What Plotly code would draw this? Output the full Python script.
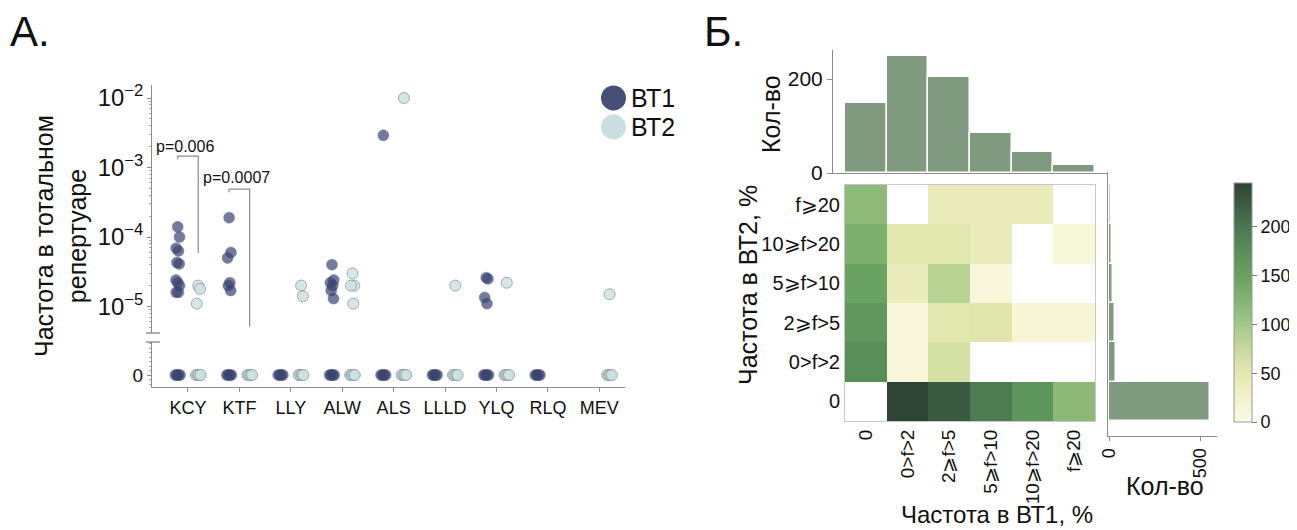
import math
import plotly.graph_objects as go

W, H = 1297, 530
OX, OY = 8, 8          # page body margin of the browser
FW, FH = W - OX, H - OY
FONT = "Liberation Sans, Arial, sans-serif"

# ---------------- Panel A data ----------------
CATEGORIES = ["KCY", "KTF", "LLY", "ALW", "ALS", "LLLD", "YLQ", "RLQ", "MEV"]
BT1_KCY = [1.4e-4, 1.0e-4, 6.9e-5, 6.3e-5, 4.3e-5, 4.1e-5, 2.4e-5, 2.2e-5, 2.0e-5, 1.6e-5, 1.6e-5]
BT1_KTF = [1.9e-4, 6.0e-5, 5.0e-5, 2.2e-5, 2.0e-5, 1.7e-5]
BT1_ALW = [4.0e-5, 2.4e-5, 2.2e-5, 2.0e-5, 1.7e-5, 1.3e-5]
BT1_ALS = [2.9e-3]
BT1_YLQ = [2.6e-5, 2.5e-5, 1.35e-5, 1.1e-5]
BT2_KCY = [2.0e-5, 1.8e-5, 1.1e-5]
BT2_LLY = [2.0e-5, 1.4e-5]
BT2_ALW = [3.0e-5, 2.0e-5, 2.0e-5, 1.1e-5]
BT2_ALS = [1.0e-2]
BT2_LLLD = [2.0e-5]
BT2_YLQ = [2.2e-5]
BT2_MEV = [1.5e-5]
BT1_NONZERO = {"KCY": BT1_KCY, "KTF": BT1_KTF, "ALW": BT1_ALW, "ALS": BT1_ALS, "YLQ": BT1_YLQ}
BT2_NONZERO = {"KCY": BT2_KCY, "LLY": BT2_LLY, "ALW": BT2_ALW, "ALS": BT2_ALS,
               "LLLD": BT2_LLLD, "YLQ": BT2_YLQ, "MEV": BT2_MEV}
BT1_HAS_ZERO = ["KCY", "KTF", "LLY", "ALW", "ALS", "LLLD", "YLQ", "RLQ"]
BT2_HAS_ZERO = ["KCY", "KTF", "LLY", "ALW", "ALS", "LLLD", "YLQ", "MEV"]
SERIES = ["ВТ1", "ВТ2"]

P_LABELS = ["p=0.006", "p=0.0007"]
P_CATS = ["KCY", "KTF"]
P_BAR_Y = [1.46e-3, 4.9e-4]       # bracket top level
P_LONG_LEG = [5.9e-5, 5.1e-6]     # lower end of the BT2-side leg
P_TEXT_Y = [2.0e-3, 7.1e-4]

# ---------------- Panel B data ----------------
BIN_LABELS = ["0", "0>f>2", "2⩾f>5", "5⩾f>10", "10⩾f>20", "f⩾20"]
HEAT_ROW_0 = [None, 244, 226, 195, 165, 118]
HEAT_ROW_0_2 = [175, 10, 62, None, None, None]
HEAT_ROW_2_5 = [163, 10, 52, 55, 14, 14]
HEAT_ROW_5_10 = [148, 40, 85, 10, None, None]
HEAT_ROW_10_20 = [132, 52, 52, 40, None, 12]
HEAT_ROW_20 = [116, None, 40, 40, 40, None]
TOP_HIST = [148, 250, 205, 85, 44, 18]
RIGHT_HIST = [555, 38, 33, 22, 16, 11]

COLORSCALE = [
    [0.0, "#fbfbe6"], [0.1, "#f3f2cc"], [0.2, "#e6e8b1"], [0.3, "#c8db9d"],
    [0.4, "#a6c98a"], [0.5, "#87b674"], [0.6, "#6ba363"], [0.7, "#5b9159"],
    [0.8, "#4d7b52"], [0.9, "#3d5f45"], [1.0, "#2e4334"],
]

def px_x(p):
    return (p - OX) / FW

def px_y(p):
    return 1 - (p - OY) / FH

fig = go.Figure()

BT1_COLOR = "#3a4470"
BT2_COLOR = "#cde2e4"
BT2_EDGE = "#8f9d9e"
OFFSET = 0.2
JIT = [0.0, 0.035, -0.03, 0.015, -0.015, 0.03, -0.035]
ZERO_JIT = [-0.045, -0.015, 0.015, 0.045]

def nonzero_xy(d, sign):
    xs, ys = [], []
    for cat, vals in d.items():
        i = CATEGORIES.index(cat)
        for k, v in enumerate(vals):
            xs.append(i + sign * OFFSET + JIT[k % len(JIT)])
            ys.append(v)
    return xs, ys

def zero_xy(cats, sign):
    xs, ys = [], []
    for cat in cats:
        i = CATEGORIES.index(cat)
        for j in ZERO_JIT:
            xs.append(i + sign * OFFSET + j)
            ys.append(0)
    return xs, ys

m1 = dict(color=BT1_COLOR, size=11, opacity=0.7, line=dict(color=BT1_COLOR, width=0.5))
m2 = dict(color=BT2_COLOR, size=11, opacity=0.85, line=dict(color=BT2_EDGE, width=1))

x, y = nonzero_xy(BT1_NONZERO, -1)
fig.add_trace(go.Scatter(x=x, y=y, mode="markers", marker=m1, xaxis="x", yaxis="y", name=SERIES[0], showlegend=False))
x, y = zero_xy(BT1_HAS_ZERO, -1)
fig.add_trace(go.Scatter(x=x, y=y, mode="markers", marker=m1, xaxis="x", yaxis="y2", name=SERIES[0], showlegend=False))
x, y = nonzero_xy(BT2_NONZERO, 1)
fig.add_trace(go.Scatter(x=x, y=y, mode="markers", marker=m2, xaxis="x", yaxis="y", name=SERIES[1], showlegend=False))
x, y = zero_xy(BT2_HAS_ZERO, 1)
fig.add_trace(go.Scatter(x=x, y=y, mode="markers", marker=m2, xaxis="x", yaxis="y2", name=SERIES[1], showlegend=False))

# p-value brackets
for lab, cat, top, leg, ty in zip(P_LABELS, P_CATS, P_BAR_Y, P_LONG_LEG, P_TEXT_Y):
    i = CATEGORIES.index(cat)
    xl, xr = i - OFFSET, i + OFFSET
    fig.add_trace(go.Scatter(x=[xl, xl, xr, xr], y=[top * 0.9, top, top, leg], mode="lines",
                             line=dict(color="#8a8a8a", width=1.2), xaxis="x", yaxis="y",
                             showlegend=False, hoverinfo="skip"))
    fig.add_annotation(x=i - 0.05, y=math.log10(ty), xref="x", yref="y", text=lab, showarrow=False,
                       font=dict(size=16, color="#111"), xanchor="center", yanchor="middle")

# ---------------- Panel B traces ----------------
heat_z = [HEAT_ROW_0, HEAT_ROW_0_2, HEAT_ROW_2_5, HEAT_ROW_5_10, HEAT_ROW_10_20, HEAT_ROW_20]
fig.add_trace(go.Heatmap(
    z=heat_z, x=list(range(6)), y=list(range(6)), xaxis="x3", yaxis="y3",
    colorscale=COLORSCALE, zmin=0, zmax=245, hoverongaps=False,
    colorbar=dict(x=px_x(1234), xanchor="left", xpad=0, ypad=0, thickness=18, thicknessmode="pixels",
                  len=239 / FH, lenmode="fraction", y=px_y(422), yanchor="bottom",
                  tickvals=[0, 50, 100, 150, 200], ticks="outside", ticklen=5,
                  tickcolor="#777", tickfont=dict(size=18, color="#111", family=FONT),
                  outlinecolor="#999", outlinewidth=1),
))
fig.add_trace(go.Bar(x=list(range(6)), y=TOP_HIST, xaxis="x4", yaxis="y4", width=1,
                     marker=dict(color="#7f9a7e", line=dict(color="white", width=1.5)),
                     showlegend=False))
fig.add_trace(go.Bar(y=list(range(6)), x=RIGHT_HIST, orientation="h", xaxis="x5", yaxis="y5", width=1,
                     marker=dict(color="#7f9a7e", line=dict(color="white", width=1.5)),
                     showlegend=False))

AX = dict(showgrid=False, zeroline=False, showline=True, linecolor="#8c8c8c", linewidth=1,
          automargin=False, tickcolor="#8c8c8c", tickfont=dict(size=19, color="#111", family=FONT))

lay = dict(
    width=FW, height=FH, margin=dict(l=0, r=0, t=0, b=0, autoexpand=False),
    plot_bgcolor="white", paper_bgcolor="white",
    font=dict(family=FONT, color="#111"),
    bargap=0, showlegend=False,
    xaxis=dict(AX, domain=[px_x(152), px_x(625)], range=[-0.7, 8.5], anchor="y2",
               tickvals=list(range(len(CATEGORIES))), ticktext=CATEGORIES,
               ticks="outside", ticklen=4, tickfont=dict(size=18, color="#111", family=FONT)),
    yaxis=dict(AX, type="log", domain=[px_y(333), px_y(85)], range=[-5.381, -1.813], anchor="x",
               dtick=1, exponentformat="power", ticks="outside", ticklen=4,
               minor=dict(ticks="outside", ticklen=2, tickcolor="#aaa")),
    yaxis2=dict(AX, domain=[px_y(387), px_y(342)], range=[-0.2667, 0.7333], anchor="x",
                tickvals=[0], ticktext=["0"], ticks="outside", ticklen=4,
                minor=dict(ticks="outside", ticklen=2, tickcolor="#aaa", dtick=0.1)),
    xaxis3=dict(AX, domain=[px_x(845), px_x(1095)], range=[-0.5, 5.5], anchor="y3",
                tickvals=list(range(6)), ticktext=BIN_LABELS, tickangle=-90, ticks="",
                linecolor="#c8c8c8", mirror=True, tickfont=dict(size=19, color="#111", family=FONT)),
    yaxis3=dict(AX, domain=[px_y(421), px_y(185)], range=[-0.5, 5.5], anchor="x3",
                tickvals=list(range(6)), ticktext=BIN_LABELS, ticks="",
                linecolor="#c8c8c8", mirror=True, tickfont=dict(size=20, color="#111", family=FONT)),
    xaxis4=dict(AX, domain=[px_x(833), px_x(1108)], range=[-0.788, 5.812], anchor="y4",
                showticklabels=False, ticks=""),
    yaxis4=dict(AX, domain=[px_y(173), px_y(50)], range=[0, 261.7], anchor="x4",
                tickvals=[0, 200], ticks="outside", ticklen=5, tickfont=dict(size=21, color="#111", family=FONT)),
    xaxis5=dict(AX, domain=[px_x(1108), px_x(1217)], range=[-5.5, 593], anchor="y5",
                tickvals=[0, 500], tickangle=-90, ticks="outside", ticklen=4,
                tickfont=dict(size=18, color="#111", family=FONT)),
    yaxis5=dict(AX, domain=[px_y(436), px_y(172)], range=[-0.881, 5.83], anchor="x5",
                showticklabels=False, ticks=""),
)
fig.update_layout(**lay)

# axis break marks
for yy in (333, 342):
    fig.add_shape(type="line", xref="paper", yref="paper", x0=px_x(146), x1=px_x(160),
                  y0=px_y(yy), y1=px_y(yy), line=dict(color="#777", width=1.2))

def ann(text, xp, yp, size, angle=0, xanchor="center"):
    fig.add_annotation(text=text, x=px_x(xp), y=px_y(yp), xref="paper", yref="paper",
                       showarrow=False, textangle=angle, xanchor=xanchor, yanchor="middle",
                       font=dict(size=size, color="#111", family=FONT))

# legend (large symbols, as in the reference)
LEG_COLORS = ["#454f78", "#c9dfe2"]
for k, (name, col) in enumerate(zip(SERIES, LEG_COLORS)):
    cy = 98 + 29 * k
    fig.add_shape(type="circle", xref="paper", yref="paper", x0=px_x(601), x1=px_x(626),
                  y0=px_y(cy + 12.5), y1=px_y(cy - 12.5), fillcolor=col, line=dict(width=0))
    ann(name, 629, cy, 25, xanchor="left")

ann("А.", 8, 31, 42, xanchor="left")
ann("Б.", 702, 31, 42, xanchor="left")
ann("Частота в тотальном<br>репертуаре", 60, 236, 25, angle=-90)
ann("Кол-во", 771, 114, 25, angle=-90)
ann("Частота в ВТ2, %", 748, 285, 25, angle=-90)
ann("Частота в ВТ1, %", 997, 514, 24)
ann("Кол-во", 1165, 486, 25)

fig.write_html("out.html")
